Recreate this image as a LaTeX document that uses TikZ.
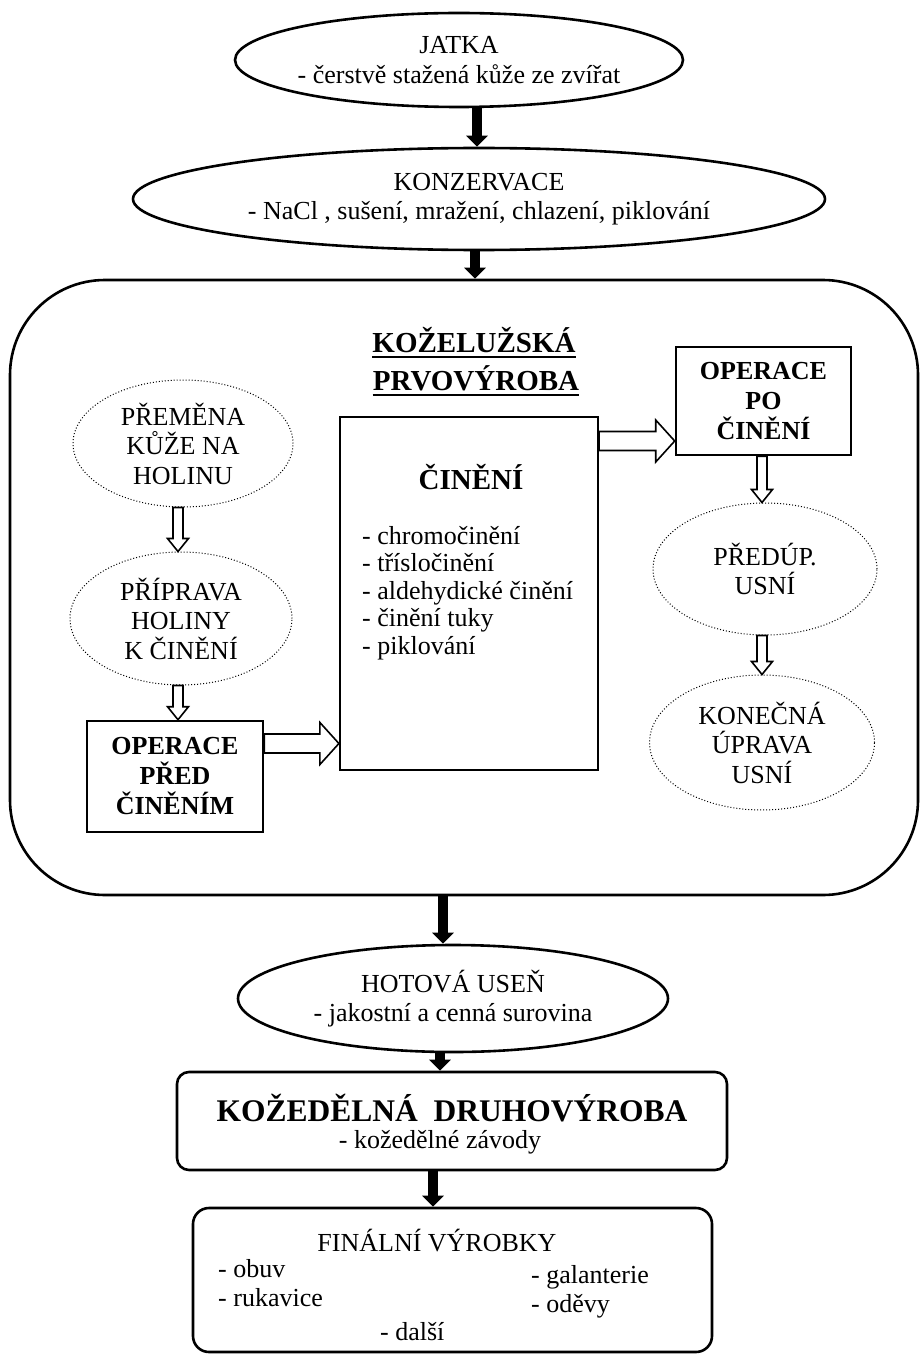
\documentclass[tikz,border=0pt]{standalone}
\usepackage{fontspec}
\setmainfont{Liberation Serif}
\usetikzlibrary{arrows.meta,shapes.geometric,calc}
\newcommand\hdown[2]{\path let \p1=(#1), \p2=(#2) in [hollowarrow]
  (\x1-5pt,\y1) -- (\x1-5pt,\y2+13pt) -- (\x1-10.5pt,\y2+13pt) -- (\x1,\y2)
  -- (\x1+10.5pt,\y2+13pt) -- (\x1+5pt,\y2+13pt) -- (\x1+5pt,\y1) -- cycle;}
\newcommand\hright[2]{\path let \p1=(#1), \p2=(#2) in [hollowarrow]
  (\x1,\y1+9.5pt) -- (\x2-19pt,\y1+9.5pt) -- (\x2-19pt,\y1+21pt) -- (\x2,\y1)
  -- (\x2-19pt,\y1-21pt) -- (\x2-19pt,\y1-9.5pt) -- (\x1,\y1-9.5pt) -- cycle;}
\begin{document}
\begin{tikzpicture}[x=1pt,y=-1pt,
  every node/.style={font=\fontsize{26}{29.5}\selectfont, inner sep=0pt},
  solidell/.style={draw, ellipse, line width=2.6pt, align=center, inner xsep=-30pt, inner ysep=-4pt},
  dotell/.style={draw, ellipse, dotted, line width=1pt, align=center},
  opbox/.style={draw, rectangle, line width=2.6pt, align=center,
    font=\fontsize{26}{30}\selectfont\bfseries},
  fat/.style={line width=10pt, -{Triangle[width=21pt,length=11pt]}},
  hollowarrow/.style={draw, line width=1.6pt, fill=white, line join=miter},
  itemtext/.style={anchor=base west},
]
\useasboundingbox (0,0) rectangle (920,1356);

% top ellipses
\node[solidell, minimum width=448pt, minimum height=94pt] (jatka) at (459,60)
  {JATKA\\- čerstvě stažená kůže ze zvířat};
\node[solidell, minimum width=692pt, minimum height=102pt] (konz) at (479,199)
  {KONZERVACE\\- NaCl , sušení, mražení, chlazení, piklování};

% big rounded frame
\node[draw, rectangle, rounded corners=95pt, line width=2.6pt,
  minimum width=908pt, minimum height=615pt] (big) at (464,587.5) {};

% title
\node[anchor=base, font=\fontsize{29}{35}\selectfont\bfseries] (t1) at (474,352) {KOŽELUŽSKÁ};
\node[anchor=base, font=\fontsize{29}{35}\selectfont\bfseries] (t2) at (476,390) {PRVOVÝROBA};
\draw[line width=2.6pt] ([yshift=-5pt]t1.base west) -- ([yshift=-5pt]t1.base east);
\draw[line width=2.6pt] ([yshift=-5pt]t2.base west) -- ([yshift=-5pt]t2.base east);

% left column
\node[dotell, minimum width=220pt, minimum height=127pt] (prem) at (183,443.5)
  {PŘEMĚNA\\KŮŽE NA\\HOLINU};
\node[dotell, minimum width=222pt, minimum height=133pt] (prip) at (181,618.5)
  {PŘÍPRAVA\\HOLINY\\K ČINĚNÍ};
\node[opbox, minimum width=176pt, minimum height=111pt] (opred) at (175,776.5)
  {OPERACE\\PŘED\\ČINĚNÍM};

% centre box
\node[draw, rectangle, line width=2.2pt, minimum width=258pt, minimum height=353pt]
  (cinen) at (469,593.5) {};
\node[anchor=base, font=\fontsize{29}{34}\selectfont\bfseries] (cintitle) at (471,489) {ČINĚNÍ};
\node[itemtext] (c1) at (362,544) {- chromočinění};
\node[itemtext] (c2) at (362,571.5) {- třísločinění};
\node[itemtext] (c3) at (362,599) {- aldehydické činění};
\node[itemtext] (c4) at (362,626.5) {- činění tuky};
\node[itemtext] (c5) at (362,654) {- piklování};

% right column
\node[opbox, minimum width=175pt, minimum height=108pt] (opo) at (763.5,401)
  {OPERACE\\PO\\ČINĚNÍ};
\node[dotell, minimum width=224pt, minimum height=132pt] (predup) at (765,569)
  {PŘEDÚP.\\USNÍ};
\node[dotell, minimum width=225pt, minimum height=135pt] (konec) at (762,742.5)
  {KONEČNÁ\\ÚPRAVA\\USNÍ};

% bottom part
\node[solidell, minimum width=430pt, minimum height=107pt] (hot) at (453,998.5)
  {HOTOVÁ USEŇ\\- jakostní a cenná surovina};
\node[draw, rectangle, rounded corners=12pt, line width=2.6pt,
  minimum width=550pt, minimum height=98pt] (kozed) at (452,1121) {};
\node[anchor=base, font=\fontsize{31.5}{36}\selectfont\bfseries] (kozt) at (452,1121)
  {KOŽEDĚLNÁ\ \ DRUHOVÝROBA};
\node[anchor=base] (kozs) at (440,1148) {- kožedělné závody};
\node[draw, rectangle, rounded corners=16pt, line width=2.6pt,
  minimum width=519pt, minimum height=144pt] (final) at (452.5,1280) {};
\node[anchor=base] (fint) at (437,1251) {FINÁLNÍ VÝROBKY};
\node[itemtext] (f1) at (218,1277) {- obuv};
\node[itemtext] (f2) at (218,1306) {- rukavice};
\node[itemtext] (f3) at (531,1283) {- galanterie};
\node[itemtext] (f4) at (531,1312) {- oděvy};
\node[itemtext] (f5) at (380,1340) {- další};

% thick black arrows
\draw[fat] ([xshift=18pt]jatka.south) -- ([xshift=-2pt]konz.north);
\draw[fat] ([xshift=-4pt]konz.south) -- ([xshift=-4pt]konz.south |- big.north);
\draw[fat] ([xshift=-10pt]hot.north |- big.south) -- ([xshift=-10pt]hot.north);
\draw[fat] ([xshift=-13pt]hot.south) -- ([xshift=-13pt]hot.south |- kozed.north);
\draw[fat] ([xshift=-19pt]kozed.south) -- ([xshift=-19pt]kozed.south |- final.north);

% hollow arrows
\hdown{[xshift=-5pt]prem.south}{[xshift=-3pt]prip.north}
\hdown{[xshift=-3pt]prip.south}{[xshift=3pt]opred.north}
\hright{[yshift=33pt]opred.east}{cinen.west}
\hright{[yshift=152.5pt]cinen.east}{opo.west}
\hdown{[xshift=-1.5pt]opo.south}{[xshift=-3pt]predup.north}
\hdown{[xshift=-3pt]predup.south}{konec.north}
\end{tikzpicture}
\end{document}
